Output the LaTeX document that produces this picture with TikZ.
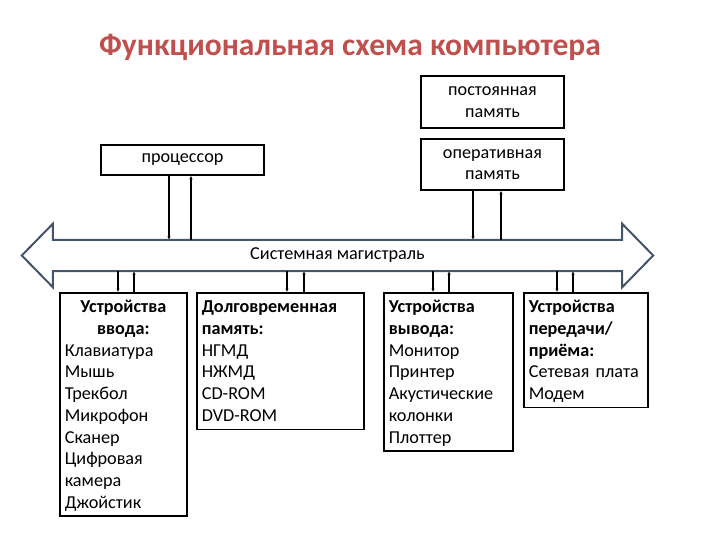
\documentclass[tikz,border=0pt]{standalone}
\usepackage{fontspec}
\setmainfont{Carlito}
\usetikzlibrary{arrows.meta,positioning}
\definecolor{titlered}{RGB}{192,80,77}
\definecolor{busblue}{RGB}{68,84,106}

\begin{document}
\begin{tikzpicture}[
	x=1pt, y=-1pt,
	every node/.style={font=\fontsize{18.2}{21.7}\selectfont},
	block/.style={draw, line width=1.6pt, align=center, inner sep=0pt},
	unit/.style={draw, line width=1.6pt, anchor=north west, align=left, inner xsep=5pt, inner ysep=3pt,
		execute at begin node={\rule{0pt}{17pt}}, execute at end node={\rule[-5pt]{0pt}{0pt}}},
	link/.style={line width=1.1pt},
	tobus/.style={link, -{Latex[length=3.5pt,width=3.5pt]}},
	busline/.style={draw=busblue, line width=2pt, line join=miter}
	]
	\useasboundingbox (0,0) rectangle (720,540);
	
	\node[font=\fontsize{31.5}{36}\selectfont\bfseries, text=titlered] (title) at (350,47) {Функциональная схема компьютера};
	
	\node[block, minimum width=143, minimum height=52] (rom) at (492.5,102) {постоянная\\память};
	\node[block, minimum width=143, minimum height=51] (ram) at (492.5,164.5) {оперативная\\память};
	\node[block, minimum width=163, minimum height=30] (proc) at (182.5,160) {процессор};
	
	% системная магистраль
	\node[minimum width=569, minimum height=31, inner sep=0pt] (bus) at (337.5,255.5) {Системная магистраль};
	\draw[busline] (bus.north west) -- (bus.north east) -- ++(0,-16) -- ([xshift=31pt]bus.east)
		-- ([yshift=-16pt]bus.south east) -- (bus.south east) -- (bus.south west)
		-- ([yshift=-16pt]bus.south west) -- ([xshift=-31pt]bus.west)
		-- ([yshift=16pt]bus.north west) -- cycle;
	
	\node[unit, text width=117] (inp) at (59,292) {{\centering\bfseries Устройства\\ввода:\par}Клавиатура\\Мышь\\Трекбол\\Микрофон\\Сканер\\Цифровая\\камера\\Джойстик};
	\node[unit, text width=157] (mem) at (196,292) {\textbf{Долговременная}\\\textbf{память:}\\НГМД\\НЖМД\\CD-ROM\\DVD-ROM};
	\node[unit, text width=119] (out) at (383,292) {\textbf{Устройства}\\\textbf{вывода:}\\Монитор\\Принтер\\Акустические\\колонки\\Плоттер};
	\node[unit, text width=114] (net) at (523,292) {\textbf{Устройства}\\\textbf{передачи/}\\\textbf{приёма:}\\Сетевая плата\\Модем};
	
	\draw[tobus] (proc.south -| 169,0) -- (bus.north -| 169,0);
	\draw[tobus] (bus.north -| 191,0) -- (proc.south -| 191,0);
	\draw[tobus] (ram.south -| 473,0) -- (bus.north -| 473,0);
	\draw[tobus] (bus.north -| 501,0) -- (ram.south -| 501,0);
	
	\draw[tobus] (bus.south -| 118,0) -- (inp.north -| 118,0);
	\draw[tobus] (inp.north -| 134,0) -- (bus.south -| 134,0);
	\draw[tobus] (bus.south -| 287,0) -- (mem.north -| 287,0);
	\draw[tobus] (mem.north -| 304,0) -- (bus.south -| 304,0);
	\draw[tobus] (bus.south -| 433,0) -- (out.north -| 433,0);
	\draw[tobus] (out.north -| 449,0) -- (bus.south -| 449,0);
	\draw[tobus] (bus.south -| 557,0) -- (net.north -| 557,0);
	\draw[tobus] (net.north -| 573,0) -- (bus.south -| 573,0);
	
\end{tikzpicture}
\end{document}
